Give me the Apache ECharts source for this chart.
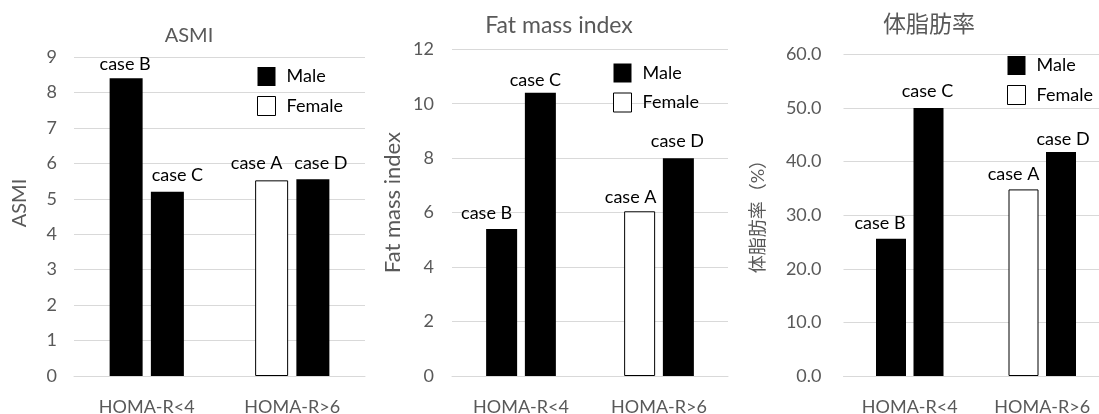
<!DOCTYPE html>
<html><head><meta charset="utf-8">
<script src="https://cdn.jsdelivr.net/npm/echarts@6/dist/echarts.min.js"></script>
<style>html,body{margin:0;padding:0;background:#fff}#c{width:1099px;height:414px}</style>
</head><body><div id="c"></div>
<script>
// ---- data ----
const categories = ['HOMA-R<4', 'HOMA-R>6'];
const firstCase = ['case B', 'case A'];
const secondCase = ['case C', 'case D'];
const firstSex = ['Male', 'Female'];
const secondSex = ['Male', 'Male'];
const asmiFirst = [8.4, 5.52];
const asmiSecond = [5.2, 5.55];
const fmiFirst = [5.4, 6.05];
const fmiSecond = [10.4, 8.0];
const bfpFirst = [25.6, 34.8];
const bfpSecond = [50.0, 41.8];
const chartTitles = ['ASMI', 'Fat mass index', '体脂肪率'];
const axisNames = ['ASMI', 'Fat mass index', '体脂肪率（%）'];
const legendNames = ['Male', 'Female'];

// ---- styling / layout ----
const FONT = "Lato, 'Noto Sans CJK JP', sans-serif";
const GRAY = '#595959';
const sexStyle = {
  Male: { color: '#000000', opacity: 1 },
  Female: { color: '#ffffff', borderColor: '#000000', borderWidth: 1, opacity: 1 }
};
const panels = [
  { first: asmiFirst, second: asmiSecond, max: 9, interval: 1, dec: 0,
    grid: { left: 74, width: 291, top: 57, height: 319 },
    barWidth: 33, labMargin: 17, nameGap: 44, nameSize: 20, namePad: [0, 0, 0, 27],
    offFirst: [[-1, 1], [-15, -2]], offSecond: [[10, -2], [8, -1]],
    title: { x: 189, y: 26, size: 20 }, legend: { x: 257, y: 67 } },
  { first: fmiFirst, second: fmiSecond, max: 12, interval: 2, dec: 0,
    grid: { left: 452, width: 276, top: 49.3, height: 326.7 },
    barWidth: 31, labMargin: 18, nameGap: 48, nameSize: 22, namePad: [0, 0, 0, 20],
    offFirst: [[-15, -1], [-9, 1]], offSecond: [[-5, 2], [-1, -2]],
    title: { x: 559, y: 14, size: 23 }, legend: { x: 613, y: 63.5 } },
  { first: bfpFirst, second: bfpSecond, max: 60, interval: 10, dec: 1,
    grid: { left: 843.5, width: 265, top: 54.3, height: 321.7 },
    barWidth: 30, labMargin: 22, nameGap: 76, nameSize: 18, namePad: [0, 0, 0, 6],
    offFirst: [[-11, -1], [-10, 0]], offSecond: [[-1, -2], [2, 2]],
    title: { x: 929, y: 13, size: 23 }, legend: { x: 1007, y: 56 } }
];

const grid = [], xAxis = [], yAxis = [], title = [], legend = [], series = [];
panels.forEach((p, i) => {
  grid.push(Object.assign({ containLabel: false, outerBoundsMode: 'none' }, p.grid));
  xAxis.push({
    type: 'category', gridIndex: i, data: categories,
    axisLine: { lineStyle: { color: '#d9d9d9', width: 1 } },
    axisTick: { show: false },
    axisLabel: { color: GRAY, fontSize: 18, fontFamily: FONT, margin: 22, interval: 0 }
  });
  yAxis.push({
    type: 'value', gridIndex: i, min: 0, max: p.max, interval: p.interval,
    name: axisNames[i], nameLocation: 'middle', nameGap: p.nameGap,
    nameTextStyle: { color: GRAY, fontSize: p.nameSize, fontFamily: FONT, padding: p.namePad },
    axisLine: { show: false }, axisTick: { show: false },
    axisLabel: { color: GRAY, fontSize: 18, fontFamily: FONT, margin: p.labMargin,
      formatter: v => v.toFixed(p.dec) },
    splitLine: { lineStyle: { color: '#d9d9d9', width: 1 } }
  });
  title.push({
    text: chartTitles[i], left: p.title.x, top: p.title.y, textAlign: 'center', padding: 0,
    textStyle: { color: GRAY, fontSize: p.title.size, fontWeight: 'normal', fontFamily: FONT }
  });
  legend.push({
    orient: 'vertical', left: p.legend.x, top: p.legend.y, padding: 0,
    itemWidth: 18, itemHeight: 19, itemGap: 10, selectedMode: false,
    textStyle: { color: '#000', fontSize: 18, fontFamily: FONT, padding: [0, 0, 0, 6] },
    data: legendNames.map(n => ({ name: n, icon: 'rect', itemStyle: sexStyle[n] }))
  });
  const mk = (vals, sexes, cases, offs) => vals.map((v, k) => ({
    value: v, itemStyle: sexStyle[sexes[k]],
    label: { formatter: cases[k], offset: offs[k] }
  }));
  const lab = { show: true, position: 'top', distance: 6, color: '#000', fontSize: 18, fontFamily: FONT };
  series.push({
    type: 'bar', name: 'bar1_' + i, xAxisIndex: i, yAxisIndex: i,
    barWidth: p.barWidth, barGap: '25%', label: lab,
    data: mk(p.first, firstSex, firstCase, p.offFirst)
  });
  series.push({
    type: 'bar', name: 'bar2_' + i, xAxisIndex: i, yAxisIndex: i,
    barWidth: p.barWidth, barGap: '25%', label: lab,
    data: mk(p.second, secondSex, secondCase, p.offSecond)
  });
});
legendNames.forEach(n => {
  series.push({ type: 'scatter', name: n, xAxisIndex: 0, yAxisIndex: 0, data: [],
    itemStyle: sexStyle[n] });
});

const chart = echarts.init(document.getElementById('c'), null, { renderer: 'canvas' });
chart.setOption({ animation: false, backgroundColor: '#fff', grid, xAxis, yAxis, title, legend, series });
</script></body></html>
